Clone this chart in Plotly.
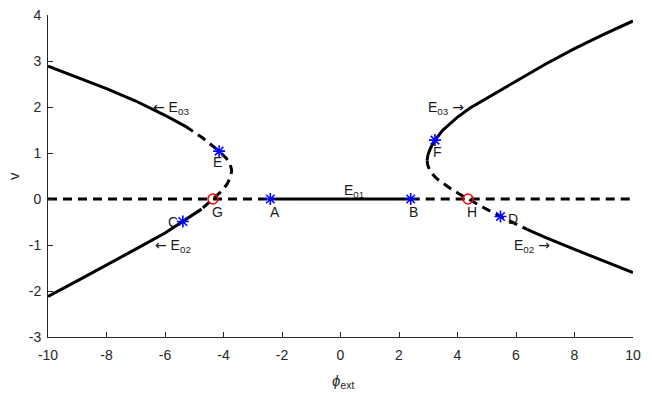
import plotly.graph_objects as go

# ---- data ----
# trivial branch E01 (v = 0)
e01_left_x = [-10, -2.4]
e01_left_y = [0, 0]
e01_mid_x = [-2.4, 2.4]
e01_mid_y = [0, 0]
e01_right_x = [2.4, 10]
e01_right_y = [0, 0]

# left branch (E03 upper, unstable middle, E02 lower)
left_upper_solid_x = [-10, -9, -8, -7, -6, -5.3]
left_upper_solid_y = [2.89, 2.65, 2.40, 2.13, 1.82, 1.58]
left_dashed_x = [-5.3, -4.72, -4.15, -3.9, -3.77, -3.72, -3.76, -3.88, -4.08, -4.36, -4.75]
left_dashed_y = [1.58, 1.33, 1.04, 0.88, 0.75, 0.62, 0.48, 0.32, 0.16, 0.0, -0.22]
left_lower_solid_x = [-4.75, -5.39, -6, -7, -8, -9, -10]
left_lower_solid_y = [-0.22, -0.49, -0.74, -1.09, -1.44, -1.78, -2.12]

# right branch
right_upper_solid_x = [10, 9, 8, 7, 6, 5, 4.43, 4.0, 3.5, 3.23, 3.08, 2.99, 2.96]
right_upper_solid_y = [3.87, 3.58, 3.27, 2.93, 2.56, 2.18, 1.98, 1.78, 1.5, 1.28, 1.11, 0.96, 0.84]
right_dashed_x = [2.96, 2.98, 3.04, 3.14, 3.3, 3.5, 3.78, 4.06, 4.36, 4.9, 5.47, 5.93, 6.38]
right_dashed_y = [0.84, 0.74, 0.64, 0.54, 0.44, 0.34, 0.22, 0.11, 0.0, -0.19, -0.38, -0.53, -0.66]
right_lower_solid_x = [6.38, 6.98, 7.98, 9, 10]
right_lower_solid_y = [-0.66, -0.83, -1.09, -1.35, -1.6]

# special points
star_names = ["A", "B", "C", "D", "E", "F"]
star_x = [-2.4, 2.4, -5.39, 5.47, -4.15, 3.23]
star_y = [0, 0, -0.49, -0.38, 1.04, 1.28]
circ_names = ["G", "H"]
circ_x = [-4.36, 4.36]
circ_y = [0, 0]

# point label positions
lab_names = ["A", "B", "C", "D", "E", "F", "G", "H"]
lab_x = [-2.24, 2.51, -5.73, 5.9, -4.19, 3.33, -4.19, 4.5]
lab_y = [-0.285, -0.285, -0.5, -0.43, 0.8, 1.03, -0.285, -0.285]

# branch label positions
ARROW_L = "<span style='font-family:DejaVu Sans'>\u2190</span>"
ARROW_R = "<span style='font-family:DejaVu Sans'>\u2192</span>"
br_text = ["E<sub>01</sub>", ARROW_L + " E<sub>03</sub>", "E<sub>03</sub> " + ARROW_R,
           ARROW_L + " E<sub>02</sub>", "E<sub>02</sub> " + ARROW_R]
br_x = [0.46, -5.79, 3.6, -5.73, 6.55]
br_y = [0.18, 1.98, 1.98, -1.03, -1.03]

x_ticks = [-10, -8, -6, -4, -2, 0, 2, 4, 6, 8, 10]
x_tick_text = ["-10", "-8", "-6", "-4", "-2", "0", "2", "4", "6", "8", "10"]
y_ticks = [-3, -2, -1, 0, 1, 2, 3, 4]
y_tick_text = ["-3", "-2", "-1", "0", "1", "2", "3", "4"]

BLACK = "#000000"
DASH = "9px,6px"
LW = 3

fig = go.Figure()

def add_line(x, y, dashed):
    fig.add_trace(go.Scatter(
        x=x, y=y, mode="lines", showlegend=False, hoverinfo="skip",
        line=dict(color=BLACK, width=LW, dash=DASH if dashed else "solid"),
    ))

add_line(e01_left_x, e01_left_y, True)
add_line(e01_mid_x, e01_mid_y, False)
add_line(e01_right_x, e01_right_y, True)
add_line(left_upper_solid_x, left_upper_solid_y, False)
add_line(left_dashed_x, left_dashed_y, True)
add_line(left_lower_solid_x, left_lower_solid_y, False)
add_line(right_upper_solid_x, right_upper_solid_y, False)
add_line(right_dashed_x, right_dashed_y, True)
add_line(right_lower_solid_x, right_lower_solid_y, False)

fig.add_trace(go.Scatter(
    x=star_x, y=star_y, mode="markers", showlegend=False, text=star_names,
    marker=dict(symbol="asterisk-open", size=10, color="#0000ff",
                line=dict(color="#0000ff", width=1.6)),
))
fig.add_trace(go.Scatter(
    x=circ_x, y=circ_y, mode="markers", showlegend=False, text=circ_names,
    marker=dict(symbol="circle-open", size=10, color="#ff0000",
                line=dict(color="#ff0000", width=1.5)),
))

FONT = "Liberation Sans, Arial, sans-serif"
for t, x, y in zip(lab_names, lab_x, lab_y):
    fig.add_annotation(x=x, y=y, text=t, showarrow=False,
                       font=dict(family=FONT, size=14, color="#1a1a1a"),
                       xanchor="center", yanchor="middle")
for t, x, y in zip(br_text, br_x, br_y):
    fig.add_annotation(x=x, y=y, text=t, showarrow=False,
                       font=dict(family=FONT, size=14, color="#1a1a1a"),
                       xanchor="center", yanchor="middle")

# axis titles
fig.add_annotation(xref="paper", yref="paper", x=0.505, y=0, yshift=-44,
                   text="<i>\u03d5</i><sub>ext</sub>", showarrow=False,
                   font=dict(family=FONT, size=15, color="#262626"),
                   xanchor="center", yanchor="middle")
fig.add_annotation(xref="paper", yref="paper", x=0, xshift=-35, y=0.5,
                   text="v", showarrow=False, textangle=-90,
                   font=dict(family=FONT, size=15, color="#262626"),
                   xanchor="center", yanchor="middle")

axis_common = dict(
    showgrid=False, zeroline=False, showline=True, linecolor="#262626",
    linewidth=1, ticks="inside", ticklen=5, tickcolor="#262626", tickwidth=1,
    tickfont=dict(family=FONT, size=14, color="#262626"), mirror=False,
    ticklabeloverflow="allow",
)
fig.update_xaxes(range=[-10, 10], tickvals=x_ticks, ticktext=x_tick_text,
                 ticklabelstandoff=5, **axis_common)
fig.update_yaxes(range=[-3, 4], tickvals=y_ticks, ticktext=y_tick_text,
                 ticklabelstandoff=3, **axis_common)

fig.update_layout(
    width=652, height=396,
    margin=dict(l=48, r=19, t=7, b=59),
    plot_bgcolor="white", paper_bgcolor="white",
    showlegend=False,
)

fig.write_html("out.html", config={"displayModeBar": False},
               post_script="document.body.style.margin='0';document.body.style.padding='0';")
